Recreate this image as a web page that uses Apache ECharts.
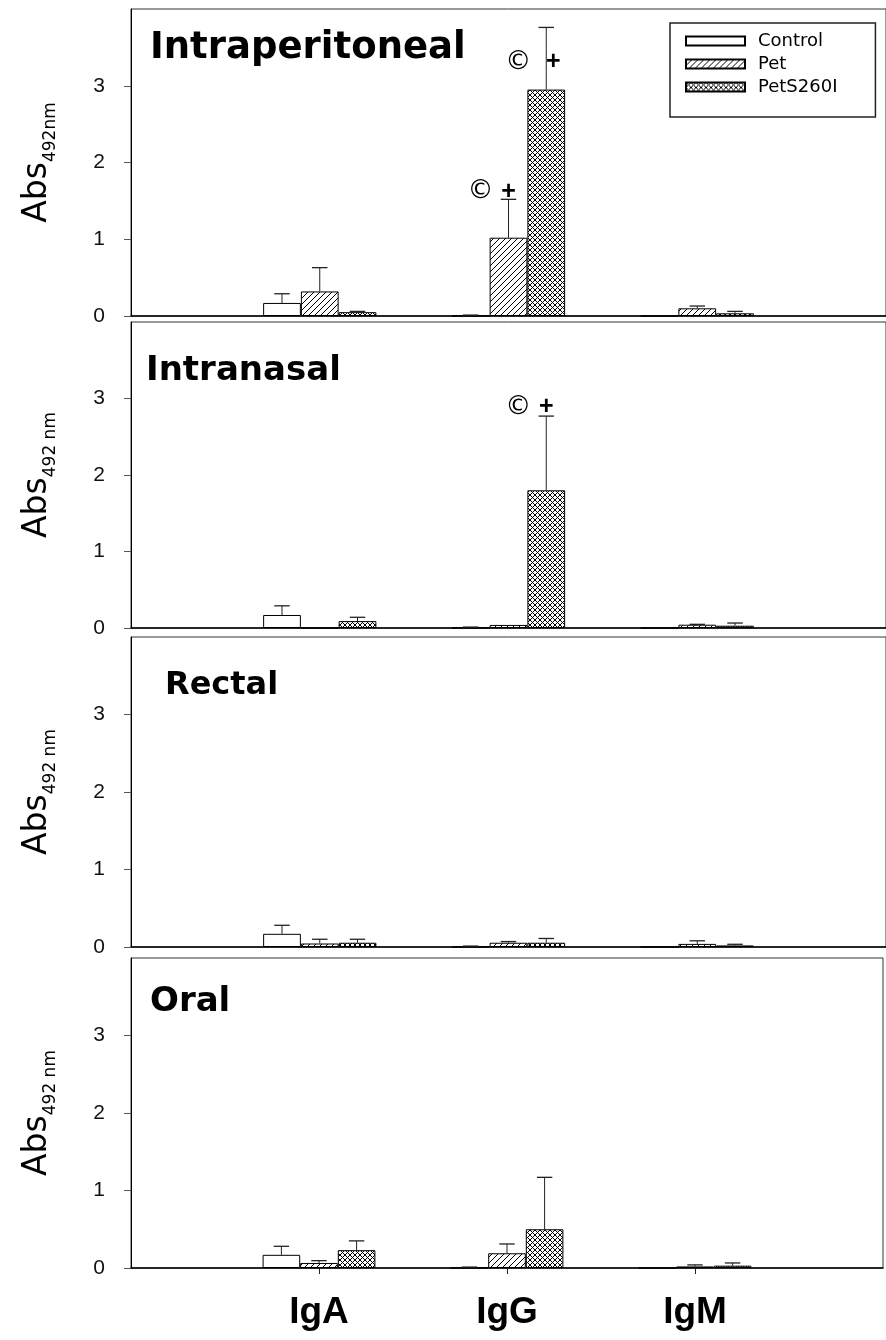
<!DOCTYPE html>
<html><head><meta charset="utf-8">
<script src="https://cdn.jsdelivr.net/npm/echarts@6/dist/echarts.min.js"></script>
<style>html,body{margin:0;padding:0;background:#fff}#c{width:886px;height:1340px}</style>
</head><body><div id="c"></div>
<script>
// ---------- DATA ----------
const categories = ['IgA', 'IgG', 'IgM'];
const seriesNames = ['Control', 'Pet', 'PetS260I'];
const panelTitles = ['Intraperitoneal', 'Intranasal', 'Rectal', 'Oral'];
const yUnitLabels = ['492nm', '492 nm', '492 nm', '492 nm'];
const yTickValues = [0, 1, 2, 3];
const yMax = 4;

// means: [series][category]  (Control, Pet, PetS260I) x (IgA, IgG, IgM)
const intraperitonealMeans = [[0.17, 0.003, 0], [0.32, 1.02, 0.10], [0.05, 2.95, 0.035]];
const intraperitonealSD    = [[0.12, 0.009, 0], [0.31, 0.50, 0.03], [0.01, 0.81, 0.025]];
const intranasalMeans      = [[0.17, 0.003, 0], [0, 0.04, 0.043], [0.09, 1.80, 0.03]];
const intranasalSD         = [[0.12, 0.009, 0], [0, 0, 0.005], [0.05, 0.97, 0.035]];
const rectalMeans          = [[0.17, 0.003, 0], [0.045, 0.055, 0.04], [0.055, 0.055, 0.02]];
const rectalSD             = [[0.11, 0.009, 0], [0.055, 0.015, 0.04], [0.045, 0.055, 0.015]];
const oralMeans            = [[0.17, 0.003, 0], [0.065, 0.19, 0.02], [0.23, 0.50, 0.03]];
const oralSD               = [[0.11, 0.009, 0], [0.03, 0.12, 0.02], [0.12, 0.67, 0.035]];

// significance marks (© and +): panel index, category, series index, y level
const annotPanel  = [0, 0, 1];
const annotCat    = ['IgG', 'IgG', 'IgG'];
const annotSeries = [1, 2, 2];
const annotY      = [1.62, 3.31, 2.89];
const annotMarks  = ['©', '+'];

const allMeans = [intraperitonealMeans, intranasalMeans, rectalMeans, oralMeans];
const allSD = [intraperitonealSD, intranasalSD, rectalSD, oralSD];

// ---------- STYLE / LAYOUT ----------
const gridTops = [9, 322, 637, 958];
const gridHeights = [307, 306, 310, 310];
const titleLayout = [
  {left: 150, top: 30, size: 37},
  {left: 146, top: 354, size: 34},
  {left: 165, top: 670, size: 32},
  {left: 150, top: 985, size: 34}
];

function makePattern(size, cross) {
  const c = document.createElement('canvas');
  c.width = c.height = size;
  const g = c.getContext('2d');
  g.fillStyle = '#fff';
  g.fillRect(0, 0, size, size);
  g.strokeStyle = '#000';
  g.lineWidth = 1;
  g.beginPath();
  g.moveTo(-1, size + 1); g.lineTo(size + 1, -1);
  g.moveTo(-1, 1); g.lineTo(1, -1);
  g.moveTo(size - 1, size + 1); g.lineTo(size + 1, size - 1);
  if (cross) {
    g.moveTo(-1, -1); g.lineTo(size + 1, size + 1);
    g.moveTo(size - 1, -1); g.lineTo(size + 1, 1);
    g.moveTo(-1, size - 1); g.lineTo(1, size + 1);
  }
  g.stroke();
  return c;
}
const fills = ['#ffffff', {image: makePattern(6, false), repeat: 'repeat'}, {image: makePattern(5, true), repeat: 'repeat'}];

const chart = echarts.init(document.getElementById('c'), null, {renderer: 'canvas'});

const grids = [], xAxes = [], yAxes = [], series = [], titles = [];
const xData = [''].concat(categories).concat(['']);

for (let p = 0; p < 4; p++) {
  const last = p === 3;
  grids.push({left: 131, right: -9, top: gridTops[p], height: gridHeights[p], show: true,
    borderColor: '#333', borderWidth: 1, backgroundColor: 'transparent'});
  xAxes.push({
    type: 'category', gridIndex: p, data: xData, boundaryGap: false,
    axisLine: {lineStyle: {color: '#000', width: 1.5}},
    axisTick: {show: last, length: 6, lineStyle: {color: '#222'},
      interval: function (idx) { return idx >= 1 && idx <= categories.length; }},
    axisLabel: {show: last, interval: 0, fontFamily: 'Liberation Sans', fontWeight: 'bold',
      fontSize: 37, color: '#000', margin: 26},
    splitLine: {show: false}
  });
  yAxes.push({
    type: 'value', gridIndex: p, min: 0, max: yMax, interval: 1,
    name: '{a|Abs}{b|' + yUnitLabels[p] + '}',
    nameLocation: 'middle', nameRotate: 90, nameGap: 72,
    nameTextStyle: {rich: {
      a: {fontFamily: 'DejaVu Sans', fontSize: 33, color: '#000', lineHeight: 38, verticalAlign: 'top'},
      b: {fontFamily: 'DejaVu Sans', fontSize: 17, color: '#000', lineHeight: 18, verticalAlign: 'bottom', padding: [30, 0, 0, 0]}
    }},
    axisLine: {show: true, lineStyle: {color: '#000', width: 1}},
    axisTick: {show: true, length: 7, customValues: yTickValues, lineStyle: {color: '#555'}},
    axisLabel: {customValues: yTickValues, fontFamily: 'Liberation Sans', fontSize: 21, color: '#111', margin: 26},
    splitLine: {show: false}
  });
  titles.push({text: panelTitles[p], left: titleLayout[p].left, top: titleLayout[p].top, padding: 0,
    textStyle: {fontFamily: 'DejaVu Sans', fontWeight: 'bold', fontSize: titleLayout[p].size, color: '#000'}});

  for (let s = 0; s < 3; s++) {
    series.push({
      type: 'bar', name: seriesNames[s], xAxisIndex: p, yAxisIndex: p,
      barWidth: '20%', barGap: '0%',
      data: ['-'].concat(allMeans[p][s]).concat(['-']),
      itemStyle: {color: fills[s], borderColor: '#000', borderWidth: 1},
      emphasis: {disabled: true}
    });
  }
  const errData = [];
  for (let s = 0; s < 3; s++) for (let c = 0; c < categories.length; c++) {
    errData.push([c + 1, s, allMeans[p][s][c], allMeans[p][s][c] + allSD[p][s][c]]);
  }
  series.push({
    type: 'custom', xAxisIndex: p, yAxisIndex: p, z: 3, silent: true,
    encode: {x: 0, y: 3},
    data: errData,
    renderItem: function (params, api) {
      const cat = api.value(0), s = api.value(1), m = api.value(2), top = api.value(3);
      if (!(top > m)) return null;
      const bw = api.size([1, 0])[0] * 0.2;
      const cx = api.coord([cat, 0])[0] + (s - 1) * bw;
      const y0 = api.coord([cat, m])[1], y1 = api.coord([cat, top])[1];
      const capW = bw * 0.41;
      return {type: 'group', children: [
        {type: 'line', shape: {x1: cx, y1: y0, x2: cx, y2: y1}, style: {stroke: '#222', lineWidth: 1}},
        {type: 'line', shape: {x1: cx - capW / 2, y1: y1, x2: cx + capW / 2, y2: y1}, style: {stroke: '#222', lineWidth: 1.3}}
      ]};
    }
  });
  const aData = [];
  for (let k = 0; k < annotPanel.length; k++) {
    if (annotPanel[k] !== p) continue;
    const c = categories.indexOf(annotCat[k]);
    const s = annotSeries[k];
    aData.push([c + 1, s, annotY[k], allMeans[p][s][c] + allSD[p][s][c]]);
  }
  if (aData.length) {
    series.push({
      type: 'custom', xAxisIndex: p, yAxisIndex: p, z: 4, silent: true,
      encode: {x: 0, y: 2},
      data: aData,
      renderItem: function (params, api) {
        const cat = api.value(0), s = api.value(1), yv = api.value(2), errTop = api.value(3);
        const bw = api.size([1, 0])[0] * 0.2;
        const cx = api.coord([cat, 0])[0] + (s - 1) * bw;
        const cy = api.coord([cat, yv])[1];
        const plusShift = yv < errTop ? 7 : 0;
        return {type: 'group', children: [
          {type: 'text', x: cx - 28, y: cy, style: {text: annotMarks[0], fontFamily: 'DejaVu Sans', fontSize: 26, fill: '#000', align: 'center', verticalAlign: 'middle'}},
          {type: 'text', x: cx + plusShift, y: cy, style: {text: annotMarks[1], fontFamily: 'Liberation Sans', fontWeight: 'bold', fontSize: 25, fill: '#000', align: 'center', verticalAlign: 'middle'}}
        ]};
      }
    });
  }
}

chart.setOption({
  animation: false,
  backgroundColor: '#fff',
  textStyle: {fontFamily: 'Liberation Sans'},
  title: titles,
  legend: {
    data: seriesNames, orient: 'vertical', left: 670, top: 23,
    itemWidth: 59, itemHeight: 9, itemGap: 5,
    icon: 'rect',
    textStyle: {fontFamily: 'DejaVu Sans', fontSize: 18, lineHeight: 18, color: '#000', padding: [0, 0, 0, 8]},
    borderColor: '#222', borderWidth: 1.5, padding: [9, 38, 21, 15],
    backgroundColor: '#fff', selectedMode: false
  },
  grid: grids, xAxis: xAxes, yAxis: yAxes, series: series
});
</script></body></html>
